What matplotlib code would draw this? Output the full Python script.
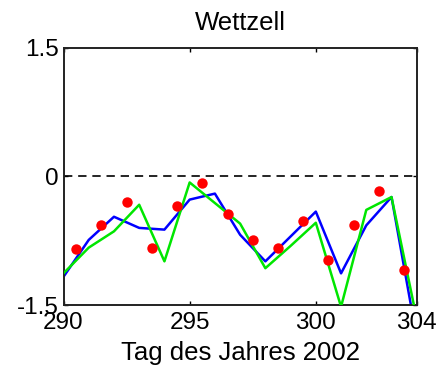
import matplotlib
matplotlib.use("Agg")
import matplotlib.pyplot as plt

plt.rcParams['font.family'] = ['Liberation Sans', 'DejaVu Sans']

# Daily values, day of year 2002
days = [290, 291, 292, 293, 294, 295, 296, 297, 298, 299, 300, 301, 302, 303, 304]
blue_series = [-1.17, -0.74, -0.47, -0.60, -0.62, -0.27, -0.20, -0.68, -0.99,
               -0.70, -0.41, -1.13, -0.57, -0.24, -1.88]
green_series = [-1.13, -0.83, -0.64, -0.33, -0.99, -0.07, -0.31, -0.55, -1.07,
                -0.81, -0.54, -1.52, -0.39, -0.24, -1.66]

# Observations at mid-day
obs_days = [290.5, 291.5, 292.5, 293.5, 294.5, 295.5, 296.5, 297.5, 298.5,
            299.5, 300.5, 301.5, 302.5, 303.5]
obs_values = [-0.85, -0.57, -0.30, -0.84, -0.35, -0.08, -0.44, -0.74, -0.83,
              -0.52, -0.97, -0.57, -0.17, -1.09]

x_ticks = [290, 295, 300, 304]
y_ticks = [-1.5, 0, 1.5]

fig = plt.figure(figsize=(4.41, 3.68), dpi=100)
ax = fig.add_axes([0.144, 0.171, 0.801, 0.699])

ax.axhline(0, color='black', lw=1.2, ls=(0, (5, 3.5)), zorder=1)
ax.plot(days, blue_series, color='#0000ff', lw=1.8, zorder=2)
ax.plot(days, green_series, color='#00e600', lw=1.8, zorder=3)
ax.plot(obs_days, obs_values, 'o', color='#ff0000', ms=7.5, mec='none', zorder=4)

ax.set_xlim(290, 304)
ax.set_ylim(-1.5, 1.5)
ax.set_xticks(x_ticks)
ax.set_yticks(y_ticks)
ax.set_xticklabels([str(t) for t in x_ticks])
ax.set_yticklabels(['-1.5', '0', '1.5'])

ax.tick_params(direction='in', length=3, width=1, top=True, right=True,
               labelsize=17.5, colors='black')
ax.tick_params(axis='x', pad=5)
ax.tick_params(axis='y', pad=3.5)
for s in ax.spines.values():
    s.set_linewidth(1.4)
    s.set_color('#222222')

ax.set_title('Wettzell', fontsize=18.5, pad=13)
ax.set_xlabel('Tag des Jahres 2002', fontsize=18.5, labelpad=5)

fig.savefig('out.png', dpi=100)
